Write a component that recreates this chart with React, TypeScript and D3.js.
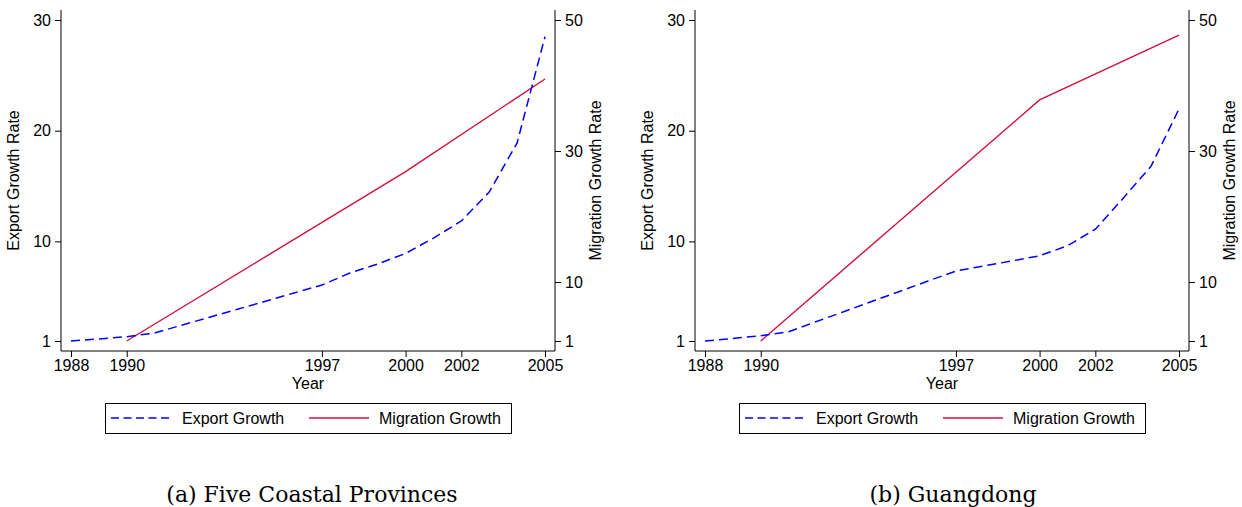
import { useRef, useEffect } from 'react';
import * as d3 from 'd3';

// Years on the x axis (export series is annual)
const years = [1988, 1989, 1990, 1991, 1992, 1993, 1994, 1995, 1996, 1997, 1998, 1999, 2000, 2001, 2002, 2003, 2004, 2005];

const coastalExport = [1.0, 1.18, 1.39, 1.72, 2.45, 3.17, 3.89, 4.61, 5.34, 6.06, 7.14, 7.96, 8.91, 10.3, 11.84, 14.46, 18.9, 28.5];
const guangdongExport = [1.0, 1.23, 1.48, 1.84, 2.76, 3.67, 4.59, 5.5, 6.42, 7.32, 7.78, 8.23, 8.7, 9.6, 11.1, 13.9, 16.8, 21.96];

// Migration only observed in census years
const migrationYears = [1990, 2000, 2005];
const coastalMigration = [1.0, 26.85, 41.0];
const guangdongMigration = [1.0, 37.8, 47.7];

const yearTicks = [1988, 1990, 1997, 2000, 2002, 2005];
const exportTicks = [1, 10, 20, 30];
const migrationTicks = [1, 10, 30, 50];

const captions = ['(a) Five Coastal Provinces', '(b) Guangdong'];

const SANS = '"Liberation Sans", Arial, sans-serif';
const BLUE = '#0000ff';
const RED = '#d0103a';

const App = () => {
    const svgRef = useRef<SVGSVGElement | null>(null);

    useEffect(() => {
        const svgElement = svgRef.current;
        if (!svgElement) return;

        const svg = d3.select(svgElement);
        svg.selectAll('*').remove();

        const panels = [
            { dx: 0, exp: coastalExport, mig: coastalMigration, caption: captions[0], capX: 312 },
            { dx: 634, exp: guangdongExport, mig: guangdongMigration, caption: captions[1], capX: 953 },
        ];

        panels.forEach(p => {
            const left = 61 + p.dx;
            const right = 555 + p.dx;
            const top = 10;
            const bottom = 351;

            const g = svg.append('g');

            const x = d3.scaleLinear().domain([1988, 2005]).range([left + 10, right - 10]);
            const yL = d3.scaleLinear().domain([1, 30]).range([341, 20]);
            const yR = d3.scaleLinear().domain([1, 50]).range([341, 20]);

            // axes
            const styleAxis = (ax: d3.Selection<SVGGElement, unknown, null, undefined>) => {
                ax.select('.domain').remove();
                ax.selectAll('line').attr('stroke', '#000').attr('stroke-width', 1);
                ax.selectAll('text')
                    .attr('fill', '#000')
                    .style('font-family', SANS)
                    .style('font-size', '16px');
            };

            const axL = g.append('g')
                .attr('transform', `translate(${left}, 0)`)
                .call(d3.axisLeft(yL).tickValues(exportTicks).tickSize(6).tickPadding(4).tickFormat(d3.format('d')));
            styleAxis(axL);

            const axR = g.append('g')
                .attr('transform', `translate(${right}, 0)`)
                .call(d3.axisRight(yR).tickValues(migrationTicks).tickSize(6).tickPadding(4).tickFormat(d3.format('d')));
            styleAxis(axR);

            const axB = g.append('g')
                .attr('transform', `translate(0, ${bottom})`)
                .call(d3.axisBottom(x).tickValues(yearTicks).tickSize(6).tickPadding(3).tickFormat(d3.format('d')));
            styleAxis(axB);

            // frame (no top)
            g.append('path')
                .attr('d', `M${left},${top}V${bottom}H${right}V${top}`)
                .attr('fill', 'none')
                .attr('stroke', '#000')
                .attr('stroke-width', 1);

            // titles
            g.append('text')
                .attr('transform', `translate(${left - 42}, ${(top + bottom) / 2}) rotate(-90)`)
                .attr('text-anchor', 'middle')
                .style('font-family', SANS)
                .style('font-size', '16px')
                .text('Export Growth Rate');

            g.append('text')
                .attr('transform', `translate(${right + 46}, ${(top + bottom) / 2}) rotate(-90)`)
                .attr('text-anchor', 'middle')
                .style('font-family', SANS)
                .style('font-size', '16px')
                .text('Migration Growth Rate');

            g.append('text')
                .attr('x', (left + right) / 2)
                .attr('y', 389)
                .attr('text-anchor', 'middle')
                .style('font-family', SANS)
                .style('font-size', '16px')
                .text('Year');

            // lines
            const lineExp = d3.line<number>()
                .x((_, i) => x(years[i]))
                .y(d => yL(d));
            const lineMig = d3.line<number>()
                .x((_, i) => x(migrationYears[i]))
                .y(d => yR(d));

            g.append('path')
                .datum(p.mig)
                .attr('fill', 'none')
                .attr('stroke', RED)
                .attr('stroke-width', 1.4)
                .attr('d', lineMig);

            g.append('path')
                .datum(p.exp)
                .attr('fill', 'none')
                .attr('stroke', BLUE)
                .attr('stroke-width', 1.5)
                .attr('stroke-dasharray', '9,5')
                .attr('d', lineExp);

            // legend
            const lx = 105 + p.dx;
            g.append('rect')
                .attr('x', lx + 0.5)
                .attr('y', 403.5)
                .attr('width', 406)
                .attr('height', 30)
                .attr('fill', '#fff')
                .attr('stroke', '#000')
                .attr('stroke-width', 1);

            g.append('line')
                .attr('x1', lx + 6).attr('x2', lx + 67)
                .attr('y1', 418).attr('y2', 418)
                .attr('stroke', BLUE)
                .attr('stroke-width', 1.5)
                .attr('stroke-dasharray', '8,4.5');
            g.append('text')
                .attr('x', lx + 77)
                .attr('y', 424)
                .style('font-family', SANS)
                .style('font-size', '16px')
                .text('Export Growth');

            g.append('line')
                .attr('x1', lx + 204).attr('x2', lx + 264)
                .attr('y1', 418).attr('y2', 418)
                .attr('stroke', RED)
                .attr('stroke-width', 1.4);
            g.append('text')
                .attr('x', lx + 274)
                .attr('y', 424)
                .style('font-family', SANS)
                .style('font-size', '16px')
                .text('Migration Growth');

            // caption
            g.append('text')
                .attr('x', p.capX)
                .attr('y', 502)
                .attr('text-anchor', 'middle')
                .style('font-family', '"DejaVu Serif", serif')
                .style('font-size', '22px')
                .text(p.caption);
        });
    }, []);

    return (
        <svg
            ref={svgRef}
            width={1242}
            height={507}
            style={{ position: 'absolute', left: 0, top: 0, background: '#fff' }}
        />
    );
};

export default App;
